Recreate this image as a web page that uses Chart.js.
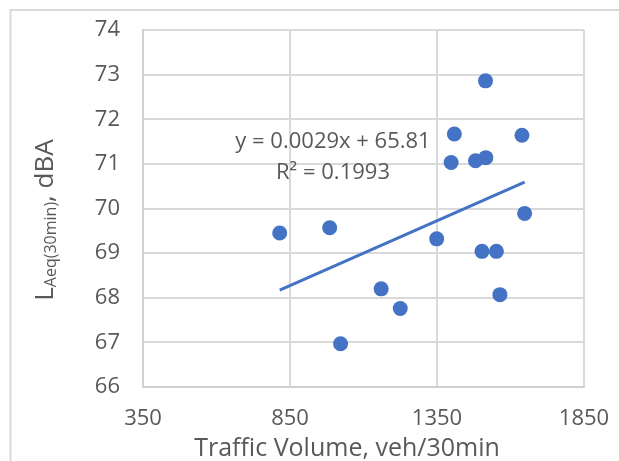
<!DOCTYPE html>
<html>
<head>
<meta charset="utf-8">
<script src="https://cdn.jsdelivr.net/npm/chart.js@4.4.1/dist/chart.umd.min.js"></script>
<style>
  html, body { margin: 0; padding: 0; background: #fff; }
  #wrap { position: relative; width: 619px; height: 461px; }
</style>
</head>
<body>
<div id="wrap"><canvas id="noiseChart" width="619" height="461"></canvas></div>
<script>
// traffic volume (veh/30min) vs LAeq(30min) (dBA)
const trafficVolume = [815, 985, 1022, 1160, 1225, 1349, 1398, 1409, 1481, 1516, 1515, 1503, 1552, 1564, 1639, 1648];
const laeq = [69.45, 69.57, 66.97, 68.20, 67.76, 69.32, 71.03, 71.67, 71.07, 71.14, 72.86, 69.04, 69.04, 68.07, 71.64, 69.89];

const xTicks = [350, 850, 1350, 1850];
const yTicks = [66, 67, 68, 69, 70, 71, 72, 73, 74];

// linear trendline from the chart label
const slope = 0.0029;
const intercept = 65.81;
const trendLabel = ['y = 0.0029x + 65.81', 'R² = 0.1993'];

const xTitle = 'Traffic Volume, veh/30min';
const yTitle = ['L', 'Aeq(30min)', ', dBA'];

const blue = '#4472C4';
const textGray = '#595959';
const gridGray = '#d9d9d9';
const font = '"Open Sans", sans-serif';

const points = trafficVolume.map((x, i) => ({ x: x, y: laeq[i] }));
const xMin = Math.min(...trafficVolume);
const xMax = Math.max(...trafficVolume);
const trend = [
  { x: xMin, y: slope * xMin + intercept },
  { x: xMax, y: slope * xMax + intercept },
];

const extras = {
  id: 'extras',
  beforeDraw(chart) {
    const c = chart.ctx;
    c.save();
    c.fillStyle = '#fff';
    c.fillRect(0, 0, chart.width, chart.height);
    // outer frame (only top/left visible in the crop)
    c.strokeStyle = gridGray;
    c.lineWidth = 2;
    c.beginPath();
    c.moveTo(10.5, chart.height);
    c.lineTo(10.5, 10);
    c.lineTo(chart.width, 10);
    c.stroke();
    c.restore();
  },
  afterDraw(chart) {
    const c = chart.ctx;
    c.save();
    c.fillStyle = textGray;

    // trendline equation
    c.font = '22px ' + font;
    c.textAlign = 'center';
    c.textBaseline = 'alphabetic';
    c.fillText(trendLabel[0], 333, 148);
    c.fillText(trendLabel[1], 333, 179);

    // x title
    c.font = '25px ' + font;
    c.fillText(xTitle, 347, 456);

    // y title with subscript
    c.translate(53, 220);
    c.rotate(-Math.PI / 2);
    c.textAlign = 'left';
    const big = '26px ' + font;
    const small = '16px ' + font;
    c.font = big;
    const w1 = c.measureText(yTitle[0]).width;
    const w3 = c.measureText(yTitle[2]).width;
    c.font = small;
    const w2 = c.measureText(yTitle[1]).width;
    let x = -(w1 + w2 + w3) / 2;
    c.font = big;
    c.fillText(yTitle[0], x, 0);
    x += w1;
    c.font = small;
    c.fillText(yTitle[1], x, 3);
    x += w2;
    c.font = big;
    c.fillText(yTitle[2], x, 0);
    c.restore();
  }
};

const noTick = 'rgba(0,0,0,0)';

new Chart(document.getElementById('noiseChart'), {
  type: 'scatter',
  data: {
    datasets: [
      {
        type: 'line',
        data: trend,
        borderColor: blue,
        borderWidth: 3,
        pointRadius: 0,
        fill: false,
      },
      {
        data: points,
        backgroundColor: blue,
        borderWidth: 0,
        pointRadius: 7.5,
      },
    ],
  },
  plugins: [extras],
  options: {
    responsive: false,
    animation: false,
    devicePixelRatio: 1,
    layout: { padding: { left: 0, top: 30, right: 35, bottom: 0 } },
    plugins: {
      legend: { display: false },
      tooltip: { enabled: false },
    },
    scales: {
      x: {
        type: 'linear',
        min: xTicks[0],
        max: xTicks[xTicks.length - 1],
        afterBuildTicks: s => { s.ticks = xTicks.map(v => ({ value: v })); },
        afterFit: s => { s.height = 74; },
        ticks: {
          color: textGray,
          font: { family: font, size: 22 },
          padding: 0,
          callback: v => String(v),
        },
        grid: { color: gridGray, lineWidth: 2, tickLength: 19, tickColor: noTick },
        border: { color: '#d0d0d0', width: 2 },
      },
      y: {
        min: yTicks[0],
        max: yTicks[yTicks.length - 1],
        afterBuildTicks: s => { s.ticks = yTicks.map(v => ({ value: v })); },
        afterFit: s => { s.width = 143; },
        ticks: {
          color: textGray,
          font: { family: font, size: 22 },
          padding: 0,
          callback: v => String(v),
        },
        grid: { color: gridGray, lineWidth: 2, tickLength: 23, tickColor: noTick },
        border: { color: '#d0d0d0', width: 2 },
      },
    },
  },
});
</script>
</body>
</html>
